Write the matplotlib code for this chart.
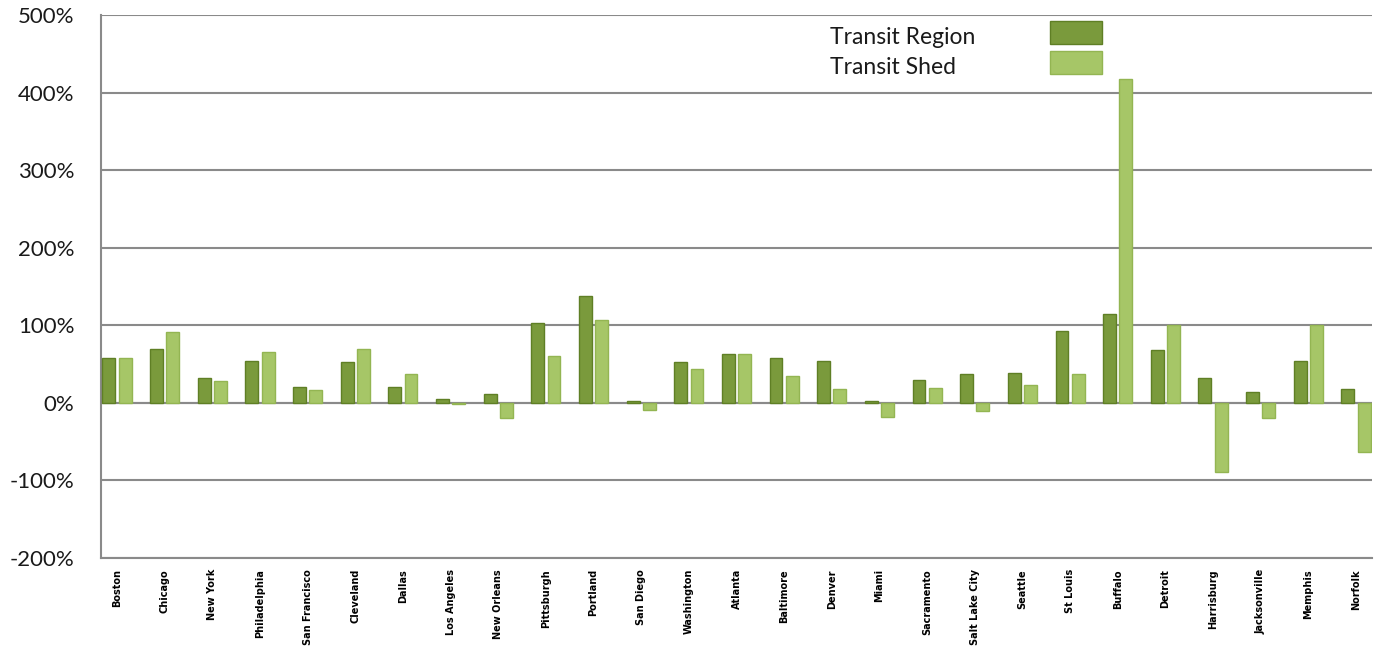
import matplotlib
matplotlib.use('Agg')
import matplotlib.pyplot as plt
from matplotlib.patches import Rectangle
from matplotlib.ticker import FuncFormatter
import numpy as np

cities = ['Boston', 'Chicago', 'New York', 'Philadelphia', 'San Francisco', 'Cleveland',
          'Dallas', 'Los Angeles', 'New Orleans', 'Pittsburgh', 'Portland', 'San Diego',
          'Washington', 'Atlanta', 'Baltimore', 'Denver', 'Miami', 'Sacramento',
          'Salt Lake City', 'Seattle', 'St Louis', 'Buffalo', 'Detroit', 'Harrisburg',
          'Jacksonville', 'Memphis', 'Norfolk']

# % change
region = [58, 70, 32, 54, 21, 53, 21, 5, 11, 103, 138, 2, 53, 63, 58, 54, 2, 30,
          37, 39, 92, 115, 68, 32, 14, 54, 18]
shed = [58, 91, 28, 66, 16, 70, 37, -2, -19, 60, 107, -9, 44, 63, 34, 18, -18, 19,
        -11, 23, 37, 417, 100, -89, -19, 100, -63]

yticks = [-200, -100, 0, 100, 200, 300, 400, 500]
series_names = ['Transit Region', 'Transit Shed']

DARK = '#7a9a3c'
DARK_EDGE = '#5f7f25'
LIGHT = '#a6c667'
LIGHT_EDGE = '#93b552'
GRID = '#8a8a8a'

W, H = 1376, 658
fig = plt.figure(figsize=(W / 100, H / 100), dpi=100)
ax = fig.add_axes([101 / W, 1 - 558 / H, 1271 / W, 543 / H])

x = np.arange(len(cities))
w = 0.27
off = 0.17
ax.bar(x - off, region, w, color=DARK, edgecolor=DARK_EDGE, linewidth=1, zorder=3)
ax.bar(x + off, shed, w, color=LIGHT, edgecolor=LIGHT_EDGE, linewidth=1, zorder=3)

ax.set_ylim(-200, 500)
ax.set_xlim(-0.336, len(cities) - 1 + 0.336)
ax.set_yticks(yticks)
ax.yaxis.set_major_formatter(FuncFormatter(lambda v, p: f'{int(v)}%'))
ax.grid(axis='y', color=GRID, linewidth=1.5, zorder=0)
ax.axhline(0, color=GRID, linewidth=1.5, zorder=1)

for s in ['top', 'right']:
    ax.spines[s].set_visible(False)
for s in ['left', 'bottom']:
    ax.spines[s].set_color(GRID)
    ax.spines[s].set_linewidth(1.5)

ax.tick_params(axis='y', length=0, labelsize=16, pad=19, labelcolor='#1a1a1a')
ax.tick_params(axis='x', length=0, pad=8)
ax.set_xticks(x)
ax.set_xticklabels(cities, rotation=90, fontsize=7, fontweight='bold', va='top', ha='center')
for lab in ax.get_yticklabels():
    lab.set_fontfamily('Lato')

# legend: text on the left, swatches on the right
legend_rows = [(43.5, 20.5, DARK, DARK_EDGE), (74.5, 50.5, LIGHT, LIGHT_EDGE)]
for name, (base_y, box_y, fc, ec) in zip(series_names, legend_rows):
    fig.text(830 / W, 1 - base_y / H, name, family='Lato', fontsize=16.5,
             color='#1a1a1a', ha='left', va='baseline')
    fig.add_artist(Rectangle((1050 / W, 1 - (box_y + 23.5) / H), 52 / W, 23.5 / H,
                             transform=fig.transFigure, facecolor=fc, edgecolor=ec,
                             linewidth=1))

fig.savefig('out.png', dpi=100)
